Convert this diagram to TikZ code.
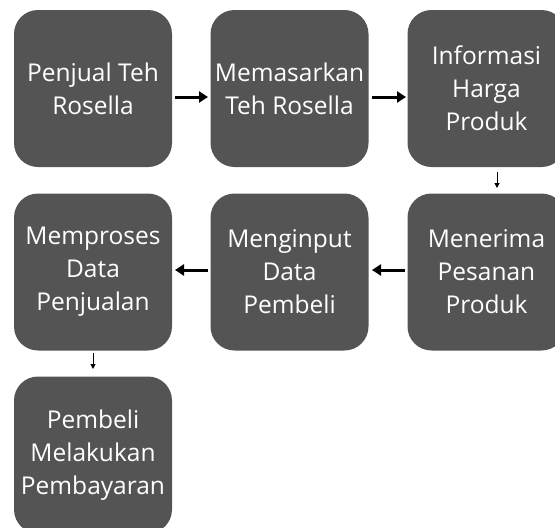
\documentclass[tikz,border=0pt]{standalone}
\usepackage{fontspec}
\setmainfont{Open Sans}
\usetikzlibrary{arrows.meta}
\definecolor{boxgray}{RGB}{84,84,84}
\tikzset{
  x=1pt,y=-1pt,
  procbox/.style={fill=boxgray, draw=none, rounded corners=24pt, minimum width=158pt, minimum height=157pt, text=white, align=center, font=\fontsize{24.5}{33}\selectfont, inner sep=0pt},
  bigarrow/.style={line width=3pt, -{Triangle[length=9pt,width=11pt]}},
  smallarrow/.style={line width=1pt, -{Triangle[length=5pt,width=5pt]}}
}
\begin{document}
\begin{tikzpicture}
\useasboundingbox (0,0) rectangle (555,528);
\begin{scope}
\clip (0,0) rectangle (555,528);
\node[procbox] (b1) at (93,88.5) {Penjual Teh\\Rosella};
\node[procbox] (b2) at (289.5,88.5) {Memasarkan\\Teh Rosella};
\node[procbox] (b3) at (486.5,88.5) {Informasi\\Harga\\Produk};
\node[procbox] (b4) at (486.5,272) {Menerima\\Pesanan\\Produk};
\node[procbox] (b5) at (289.5,272) {Menginput\\Data\\Pembeli};
\node[procbox] (b6) at (93,272) {Memproses\\Data\\Penjualan};
\node[procbox] (b7) at (93,455) {Pembeli\\Melakukan\\Pembayaran};
\end{scope}
\coordinate (a1s) at (175,97); \coordinate (a1e) at (208,97);
\draw[bigarrow] (a1s) -- (a1e);
\coordinate (a2s) at (372,97); \coordinate (a2e) at (406,97);
\draw[bigarrow] (a2s) -- (a2e);
\coordinate (a3s) at (497,172); \coordinate (a3e) at (497,188);
\draw[smallarrow] (a3s) -- (a3e);
\coordinate (a4s) at (405,270); \coordinate (a4e) at (372,270);
\draw[bigarrow] (a4s) -- (a4e);
\coordinate (a5s) at (208,270); \coordinate (a5e) at (175,270);
\draw[bigarrow] (a5s) -- (a5e);
\coordinate (a6s) at (93,353); \coordinate (a6e) at (93,369);
\draw[smallarrow] (a6s) -- (a6e);
\end{tikzpicture}
\end{document}
